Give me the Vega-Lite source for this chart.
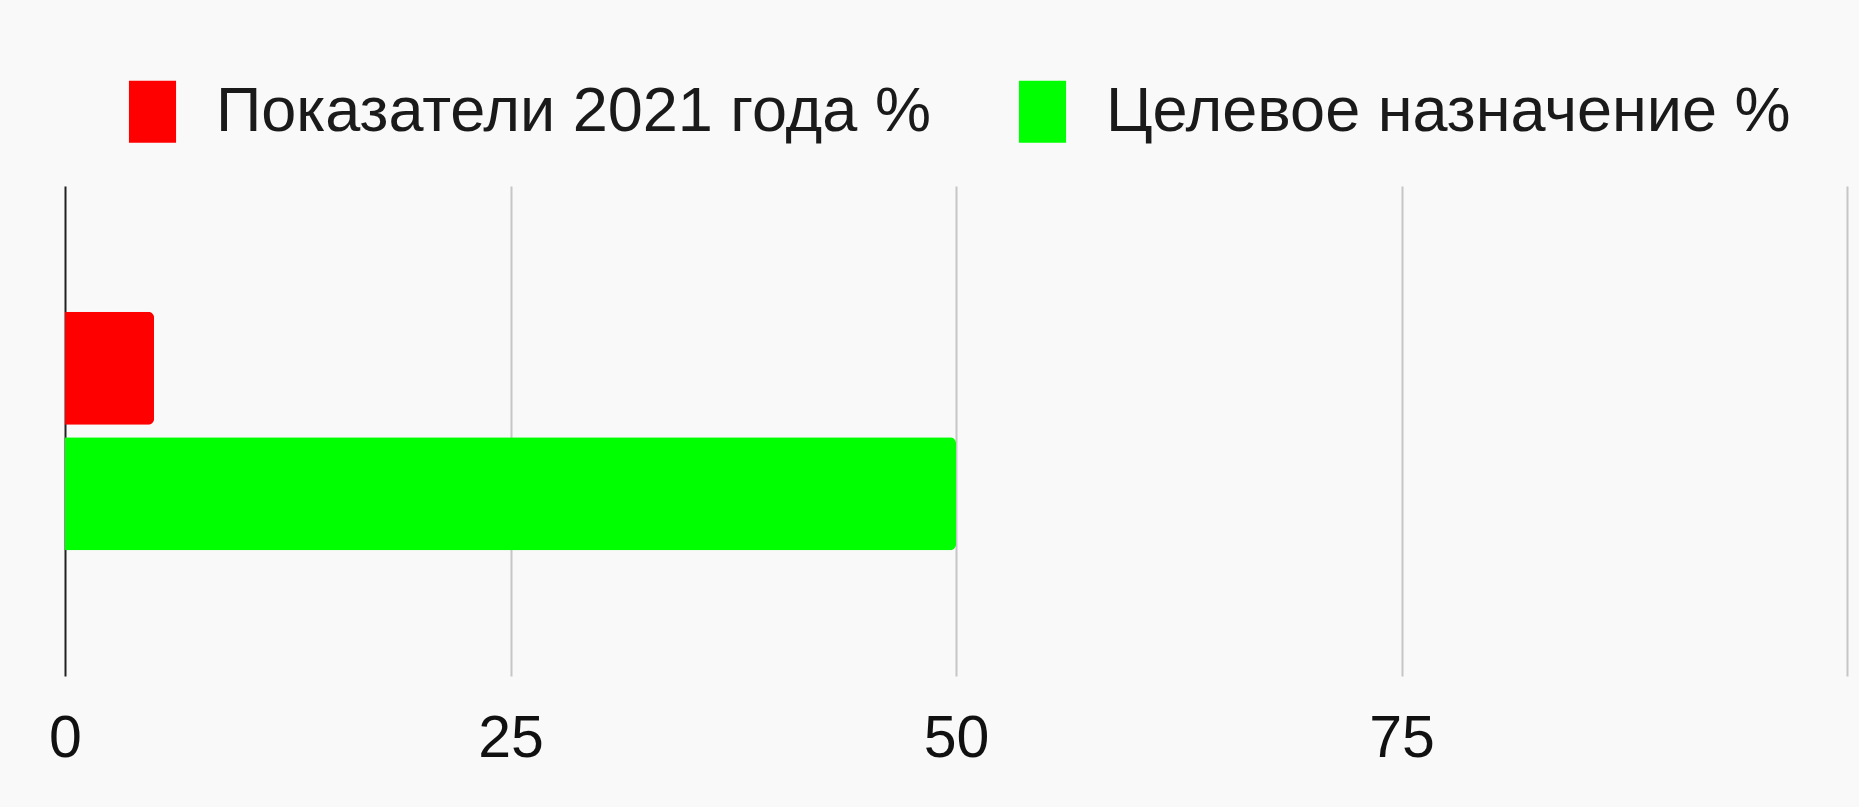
{
  "$schema": "https://vega.github.io/schema/vega-lite/v6.json",
  "width": 1782,
  "height": 490,
  "autosize": {"type": "none"},
  "padding": {"left": 65, "top": 186, "right": 12, "bottom": 131},
  "background": "#f9f9f9",
  "data": {
    "values": [
      {"series": "Показатели 2021 года %", "value": 5},
      {"series": "Целевое назначение %", "value": 50}
    ]
  },
  "mark": {"type": "bar", "cornerRadiusEnd": 6},
  "encoding": {
    "y": {
      "field": "series",
      "type": "nominal",
      "sort": ["Показатели 2021 года %", "Целевое назначение %"],
      "scale": {"paddingInner": 0.1, "paddingOuter": 1.12},
      "axis": null
    },
    "x": {
      "field": "value",
      "type": "quantitative",
      "scale": {"domain": [0, 100], "nice": false},
      "axis": {
        "values": [0, 25, 50, 75, 100],
        "labelExpr": "datum.value === 100 ? '' : datum.label",
        "title": null,
        "domain": false,
        "ticks": false,
        "grid": true,
        "gridColor": {"condition": {"test": "datum.value === 0", "value": "#222222"}, "value": "#c6c6c6"},
        "gridWidth": 2,
        "labelFont": "Liberation Sans",
        "labelFontSize": 59,
        "labelColor": "#111111",
        "labelPadding": 33,
        "labelFlush": false
      }
    },
    "color": {
      "field": "series",
      "type": "nominal",
      "scale": {
        "domain": ["Показатели 2021 года %", "Целевое назначение %"],
        "range": ["#ff0000", "#00ff00"]
      },
      "legend": {
        "orient": "top",
        "direction": "horizontal",
        "title": null,
        "labelFont": "Liberation Sans",
        "labelFontSize": 63,
        "labelColor": "#1a1a1a",
        "labelLimit": 2000,
        "symbolType": "M-0.76,-1H0.76V1H-0.76Z",
        "symbolSize": 3844,
        "symbolStrokeWidth": 0,
        "symbolOpacity": 1,
        "labelOffset": 32,
        "columnPadding": 80,
        "offset": 42,
        "padding": 0
      }
    }
  },
  "config": {
    "view": {"stroke": null},
    "legend": {"layout": {"top": {"anchor": "middle"}}}
  }
}
